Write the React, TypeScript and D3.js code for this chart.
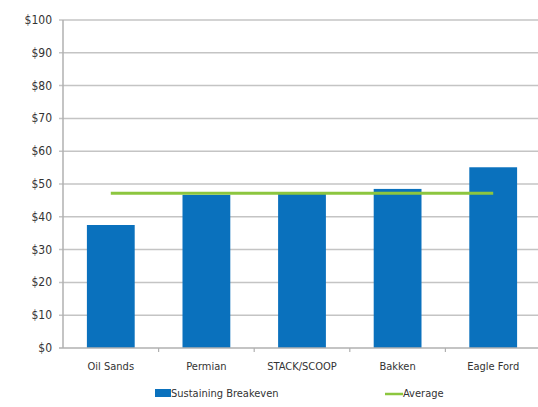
import React, { useEffect, useRef } from "react";
import * as d3 from "d3";

const categories = ["Oil Sands", "Permian", "STACK/SCOOP", "Bakken", "Eagle Ford"];
const breakeven = [37.5, 46.7, 47.2, 48.5, 55.1];
const average = [47.2, 47.2, 47.2, 47.2, 47.2];
const yTicks = [0, 10, 20, 30, 40, 50, 60, 70, 80, 90, 100];

const width = 538;
const height = 407;
const margin = { top: 20, right: -3, bottom: 59, left: 63 };
const font = "'DejaVu Sans Condensed', 'Liberation Sans Narrow', sans-serif";

export default function App() {
  const ref = useRef<SVGSVGElement>(null);

  useEffect(() => {
    const svg = d3.select(ref.current);
    svg.selectAll("*").remove();

    const x = d3
      .scaleBand()
      .domain(categories)
      .range([margin.left, width - margin.right])
      .paddingInner(0.5)
      .paddingOuter(0.25);
    const y = d3
      .scaleLinear()
      .domain([0, 100])
      .range([height - margin.bottom, margin.top]);

    // gridlines
    svg
      .append("g")
      .selectAll("line")
      .data(yTicks.slice(1))
      .enter()
      .append("line")
      .attr("x1", margin.left - 4)
      .attr("x2", width)
      .attr("y1", (d) => y(d))
      .attr("y2", (d) => y(d))
      .attr("stroke", "#c4c4c4")
      .attr("stroke-width", 1.5);

    // y labels
    svg
      .append("g")
      .selectAll("text")
      .data(yTicks)
      .enter()
      .append("text")
      .attr("x", 52)
      .attr("y", (d) => y(d) + 4)
      .attr("text-anchor", "end")
      .style("font-family", font)
      .style("font-size", "12px")
      .attr("fill", "#333")
      .text((d) => "$" + d);

    // bars
    svg
      .append("g")
      .selectAll("rect")
      .data(breakeven)
      .enter()
      .append("rect")
      .attr("x", (d, i) => x(categories[i]))
      .attr("y", (d) => y(d))
      .attr("width", x.bandwidth())
      .attr("height", (d) => y(0) - y(d))
      .attr("fill", "#0a71bd");

    // axes lines
    const x0 = margin.left;
    svg
      .append("line")
      .attr("x1", x0)
      .attr("x2", x0)
      .attr("y1", y(100))
      .attr("y2", y(0))
      .attr("stroke", "#b0b0b0")
      .attr("stroke-width", 1.5);
    svg
      .append("line")
      .attr("x1", x0 - 4)
      .attr("x2", width)
      .attr("y1", y(0))
      .attr("y2", y(0))
      .attr("stroke", "#b0b0b0")
      .attr("stroke-width", 1.5);

    const step = x.step();
    const bounds = categories.map((c) => (x(c) as number) + x.bandwidth() / 2 + step / 2);
    svg
      .append("g")
      .selectAll("line")
      .data(bounds)
      .enter()
      .append("line")
      .attr("x1", (d) => d)
      .attr("x2", (d) => d)
      .attr("y1", y(0))
      .attr("y2", y(0) + 4)
      .attr("stroke", "#b0b0b0")
      .attr("stroke-width", 1.2);

    // category labels
    svg
      .append("g")
      .selectAll("text")
      .data(categories)
      .enter()
      .append("text")
      .attr("x", (d) => (x(d) as number) + x.bandwidth() / 2)
      .attr("y", y(0) + 22)
      .attr("text-anchor", "middle")
      .style("font-family", font)
      .style("font-size", "11px")
      .attr("fill", "#333")
      .text((d) => d);

    // average line
    const line = d3
      .line<number>()
      .x((d, i) => (x(categories[i]) as number) + x.bandwidth() / 2)
      .y((d) => y(d));
    svg
      .append("path")
      .datum(average)
      .attr("d", line)
      .attr("fill", "none")
      .attr("stroke", "#8cc63f")
      .attr("stroke-width", 3);

    // legend
    const lg = svg.append("g");
    lg.append("rect")
      .attr("x", 155)
      .attr("y", 389)
      .attr("width", 16)
      .attr("height", 8)
      .attr("fill", "#0a71bd");
    lg.append("text")
      .attr("x", 171)
      .attr("y", 397)
      .style("font-family", font)
      .style("font-size", "11px")
      .attr("fill", "#333")
      .text("Sustaining Breakeven");
    lg.append("line")
      .attr("x1", 385)
      .attr("x2", 403)
      .attr("y1", 394)
      .attr("y2", 394)
      .attr("stroke", "#8cc63f")
      .attr("stroke-width", 2.5);
    lg.append("text")
      .attr("x", 403)
      .attr("y", 397)
      .style("font-family", font)
      .style("font-size", "11px")
      .attr("fill", "#333")
      .text("Average");
  }, []);

  return (
    <svg
      ref={ref}
      width={width}
      height={height}
      style={{ position: "absolute", left: 0, top: 0, background: "#fff" }}
    />
  );
}
